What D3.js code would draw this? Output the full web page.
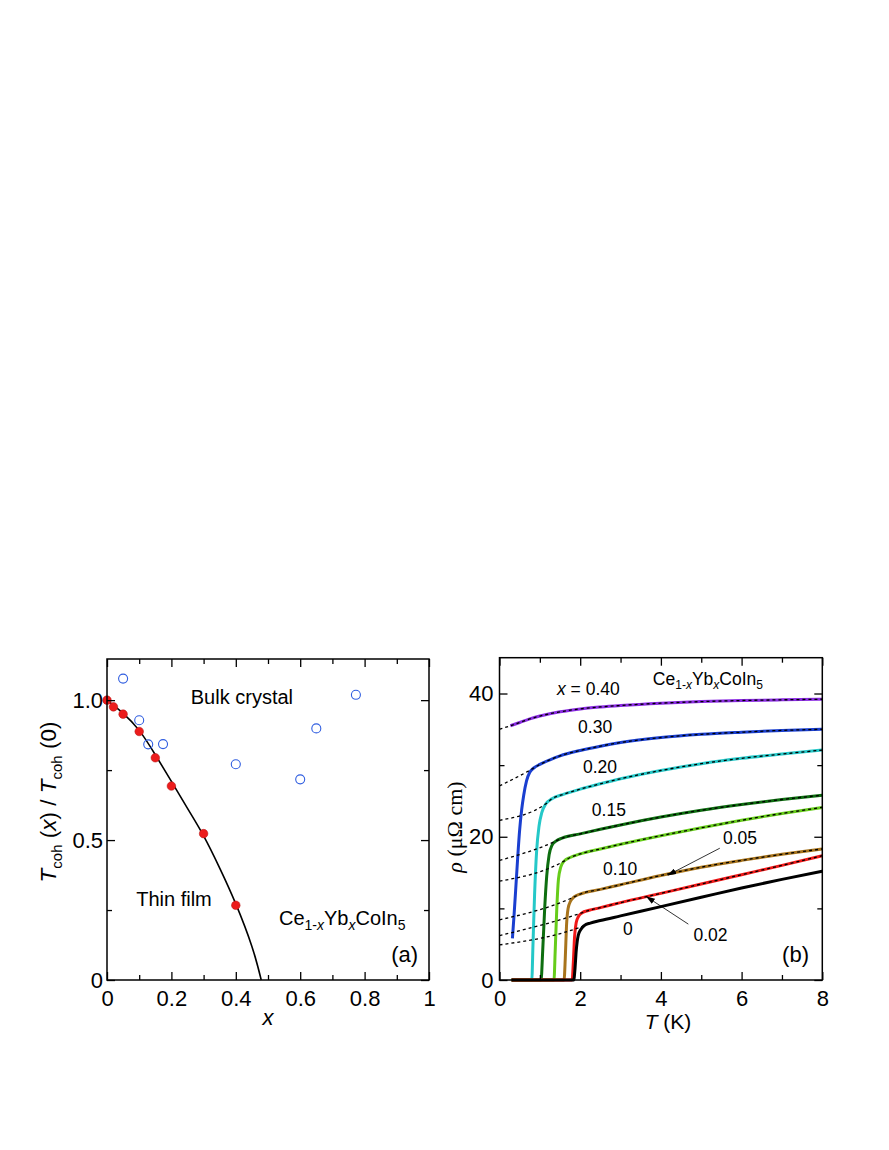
<!DOCTYPE html>
<html>
<head>
<meta charset="utf-8">
<script src="https://cdn.jsdelivr.net/npm/d3@7"></script>
<style>
  body { margin: 0; background: #fff; }
  svg { display: block; }
  text { font-family: "Liberation Sans", Arial, Helvetica, sans-serif; }
</style>
</head>
<body>
<div id="chart"></div>
<script>
// ---------- panel (a) data ----------
var xTicksA = [0, 0.2, 0.4, 0.6, 0.8, 1];
var xTickLabelsA = ["0", "0.2", "0.4", "0.6", "0.8", "1"];
var xMinorA = [0.1, 0.3, 0.5, 0.7, 0.9];
var yTicksA = [0, 0.5, 1.0];
var yTickLabelsA = ["0", "0.5", "1.0"];
var yMinorA = [0.25, 0.75];

// thin film (filled red)
var filmX = [0, 0.02, 0.05, 0.1, 0.15, 0.2, 0.3, 0.4];
var filmT = [1.0, 0.976, 0.95, 0.888, 0.794, 0.693, 0.523, 0.267];
// bulk crystal (open blue)
var bulkX = [0.05, 0.1, 0.128, 0.174, 0.4, 0.6, 0.65, 0.773];
var bulkT = [1.077, 0.928, 0.842, 0.843, 0.771, 0.717, 0.899, 1.019];
// guide line through the film points
var guideX = [0, 0.05, 0.1, 0.15, 0.2, 0.25, 0.3, 0.35, 0.4, 0.45, 0.479];
var guideT = [1.0, 0.953, 0.892, 0.805, 0.71, 0.613, 0.515, 0.4, 0.272, 0.12, 0.0];

// ---------- panel (b) data ----------
var xTicksB = [0, 2, 4, 6, 8];
var xTickLabelsB = ["0", "2", "4", "6", "8"];
var xMinorB = [1, 3, 5, 7];
var yTicksB = [0, 20, 40];
var yTickLabelsB = ["0", "20", "40"];
var yMinorB = [10, 30];

var seriesNames = ["0", "0.02", "0.05", "0.10", "0.15", "0.20", "0.30", "0.40"];
var seriesColors = ["#000000", "#f01818", "#a8741c", "#66cc1a", "#0e6e10", "#25c8c8", "#1a3fd0", "#8a2be2"];

var tempX0  = [0.3, 1.84, 1.87, 1.9, 1.95, 2.02, 2.1, 2.25, 2.5, 3, 4, 5, 6, 7, 8];
var rhoX0   = [0, 0, 1.5, 4.0, 6.2, 7.1, 7.6, 7.95, 8.3, 8.95, 10.25, 11.55, 12.85, 14.05, 15.2];
var tempX02 = [0.3, 1.8, 1.83, 1.86, 1.9, 1.96, 2.05, 2.2, 2.5, 3, 4, 5, 6, 7, 8];
var rhoX02  = [0, 0, 2.5, 6.0, 8.0, 8.9, 9.4, 9.7, 10.1, 10.8, 12.1, 13.4, 14.7, 16.0, 17.35];
var tempX05 = [0.3, 1.6, 1.63, 1.66, 1.7, 1.76, 1.85, 2.0, 2.5, 3, 4, 5, 6, 7, 8];
var rhoX05  = [0, 0, 3.0, 7.5, 10.0, 11.0, 11.6, 12.0, 12.65, 13.3, 14.6, 15.75, 16.7, 17.55, 18.3];
var tempX10 = [0.3, 1.35, 1.38, 1.42, 1.46, 1.52, 1.6, 1.75, 2.0, 2.5, 3, 4, 5, 6, 7, 8];
var rhoX10  = [0, 0, 4.0, 10.0, 14.0, 15.8, 16.6, 17.1, 17.6, 18.3, 18.95, 20.15, 21.25, 22.3, 23.25, 24.1];
var tempX15 = [0.3, 1.03, 1.07, 1.12, 1.17, 1.23, 1.3, 1.4, 1.55, 2.0, 2.5, 3, 4, 5, 6, 7, 8];
var rhoX15  = [0, 0, 4.0, 10.0, 14.5, 17.5, 18.8, 19.4, 19.8, 20.4, 21.05, 21.65, 22.75, 23.7, 24.5, 25.2, 25.8];
var tempX20 = [0.3, 0.8, 0.83, 0.87, 0.92, 0.98, 1.05, 1.15, 1.3, 1.6, 2.0, 2.5, 3, 4, 5, 6, 7, 8];
var rhoX20  = [0, 0, 5.0, 12.0, 18.0, 21.5, 23.4, 24.6, 25.3, 25.95, 26.65, 27.4, 28.1, 29.25, 30.2, 30.95, 31.55, 32.1];
var tempX30 = [0.32, 0.36, 0.4, 0.45, 0.5, 0.55, 0.6, 0.67, 0.75, 0.85, 1.0, 1.25, 1.5, 2, 2.5, 3, 4, 5, 6, 7, 8];
var rhoX30  = [5.8, 9.0, 12.5, 17.0, 21.0, 23.8, 25.8, 27.8, 29.0, 29.6, 30.1, 30.75, 31.3, 32.05, 32.65, 33.15, 33.85, 34.3, 34.6, 34.85, 35.0];
var tempX40 = [0.27, 0.5, 0.75, 1.0, 1.5, 2, 2.5, 3, 4, 5, 6, 7, 8];
var rhoX40  = [35.5, 35.95, 36.45, 36.85, 37.45, 37.85, 38.12, 38.33, 38.65, 38.87, 39.02, 39.12, 39.2];

var seriesTemps = [tempX0, tempX02, tempX05, tempX10, tempX15, tempX20, tempX30, tempX40];
var seriesRhos  = [rhoX0, rhoX02, rhoX05, rhoX10, rhoX15, rhoX20, rhoX30, rhoX40];

// dashed fits: residual resistivity at T = 0, where the fit joins the data, where it stops
var fitRho0  = [4.9, 6.2, 8.4, 13.8, 16.7, 22.3, 27.1, 35.0];
var fitJoinT = [2.1, 2.05, 1.85, 1.6, 1.4, 1.15, 0.85, 0.27];
var fitEndT  = [3, 8, 8, 8, 8, 8, 8, 8];

var svg = d3.select("#chart").append("svg")
    .attr("width", 889)
    .attr("height", 1150);

svg.append("defs").append("marker")
    .attr("id", "arrow")
    .attr("markerUnits", "userSpaceOnUse")
    .attr("markerWidth", 9).attr("markerHeight", 6)
    .attr("refX", 8).attr("refY", 3)
    .attr("orient", "auto")
  .append("path")
    .attr("d", "M0,0 L9,3 L0,6 Z")
    .attr("fill", "#000");

// Draws the four-sided frame with inward ticks
function drawAxes(x, y, xMaj, xLab, xMin, yMaj, yLab, yMin, yPad) {
    var x0 = x.range()[0], x1 = x.range()[1], y0 = y.range()[0], y1 = y.range()[1];
    function style(g) {
        g.select(".domain").remove();
        g.attr("font-size", 22);
        g.selectAll("line").attr("stroke-width", 1.3);
        g.selectAll("text").attr("fill", "#000");
    }
    // bottom
    svg.append("g").attr("transform", "translate(0," + y0 + ")")
        .call(d3.axisBottom(x).tickValues(xMaj).tickFormat(function(d, i) { return xLab[i]; })
            .tickSize(-8).tickSizeOuter(0).tickPadding(10)).call(style);
    svg.append("g").attr("transform", "translate(0," + y0 + ")")
        .call(d3.axisBottom(x).tickValues(xMin).tickFormat("").tickSize(-5).tickSizeOuter(0)).call(style);
    // top
    svg.append("g").attr("transform", "translate(0," + y1 + ")")
        .call(d3.axisTop(x).tickValues(xMaj).tickFormat("").tickSize(-8).tickSizeOuter(0)).call(style);
    svg.append("g").attr("transform", "translate(0," + y1 + ")")
        .call(d3.axisTop(x).tickValues(xMin).tickFormat("").tickSize(-5).tickSizeOuter(0)).call(style);
    // left
    svg.append("g").attr("transform", "translate(" + x0 + ",0)")
        .call(d3.axisLeft(y).tickValues(yMaj).tickFormat(function(d, i) { return yLab[i]; })
            .tickSize(-8).tickSizeOuter(0).tickPadding(yPad)).call(style);
    svg.append("g").attr("transform", "translate(" + x0 + ",0)")
        .call(d3.axisLeft(y).tickValues(yMin).tickFormat("").tickSize(-5).tickSizeOuter(0)).call(style);
    // right
    svg.append("g").attr("transform", "translate(" + x1 + ",0)")
        .call(d3.axisRight(y).tickValues(yMaj).tickFormat("").tickSize(-8).tickSizeOuter(0)).call(style);
    svg.append("g").attr("transform", "translate(" + x1 + ",0)")
        .call(d3.axisRight(y).tickValues(yMin).tickFormat("").tickSize(-5).tickSizeOuter(0)).call(style);

    svg.append("rect")
        .attr("x", x0).attr("y", y1)
        .attr("width", x1 - x0).attr("height", y0 - y1)
        .attr("fill", "none").attr("stroke", "#000").attr("stroke-width", 1.5);
}

// Ce1-xYbxCoIn5 with subscripts
function chemLabel(x, y, size, sub, shift) {
    var t = svg.append("text").attr("x", x).attr("y", y).attr("font-size", size);
    t.append("tspan").text("Ce");
    t.append("tspan").attr("font-size", sub).attr("dy", shift).text("1-");
    t.append("tspan").attr("font-size", sub).attr("font-style", "italic").text("x");
    t.append("tspan").attr("dy", -shift).text("Yb");
    t.append("tspan").attr("font-size", sub).attr("dy", shift).attr("font-style", "italic").text("x");
    t.append("tspan").attr("dy", -shift).text("CoIn");
    t.append("tspan").attr("font-size", sub).attr("dy", shift).text("5");
    return t;
}

// ================= panel (a) =================
var xa = d3.scaleLinear().domain([0, 1]).range([107, 429]);
var ya = d3.scaleLinear().domain([0, 1.147]).range([980, 659]);

var guideLine = d3.line()
    .x(function(d) { return xa(d[0]); })
    .y(function(d) { return ya(d[1]); })
    .curve(d3.curveNatural);

svg.append("path")
    .datum(guideX.map(function(v, i) { return [v, guideT[i]]; }))
    .attr("fill", "none")
    .attr("stroke", "#000")
    .attr("stroke-width", 1.6)
    .attr("d", guideLine);

svg.append("g").selectAll("circle")
    .data(bulkX.map(function(v, i) { return [v, bulkT[i]]; }))
    .enter().append("circle")
    .attr("cx", function(d) { return xa(d[0]); })
    .attr("cy", function(d) { return ya(d[1]); })
    .attr("r", 4.5)
    .attr("fill", "none")
    .attr("stroke", "#2f5de0")
    .attr("stroke-width", 1.1);

svg.append("g").selectAll("circle")
    .data(filmX.map(function(v, i) { return [v, filmT[i]]; }))
    .enter().append("circle")
    .attr("cx", function(d) { return xa(d[0]); })
    .attr("cy", function(d) { return ya(d[1]); })
    .attr("r", 4.3)
    .attr("fill", "#ec1c1c")
    .attr("stroke", "#b01010")
    .attr("stroke-width", 0.5);

drawAxes(xa, ya, xTicksA, xTickLabelsA, xMinorA, yTicksA, yTickLabelsA, yMinorA, 4);

svg.append("text")
    .attr("x", xa(0.419)).attr("y", ya(0.986))
    .attr("text-anchor", "middle").attr("font-size", 20)
    .text("Bulk crystal");

svg.append("text")
    .attr("x", xa(0.208)).attr("y", ya(0.264))
    .attr("text-anchor", "middle").attr("font-size", 20)
    .text("Thin film");

chemLabel(xa(0.534), ya(0.196), 20, 14, 5);

svg.append("text")
    .attr("x", xa(0.966)).attr("y", ya(0.064))
    .attr("text-anchor", "end").attr("font-size", 22)
    .text("(a)");

// x label
svg.append("text")
    .attr("x", 268).attr("y", 1025)
    .attr("text-anchor", "middle").attr("font-size", 22).attr("font-style", "italic")
    .text("x");

// y label
var yla = svg.append("text")
    .attr("transform", "translate(56,802) rotate(-90)")
    .attr("text-anchor", "middle").attr("font-size", 22.5);
yla.append("tspan").attr("font-style", "italic").text("T");
yla.append("tspan").attr("font-size", 15).attr("dy", 6).text("coh");
yla.append("tspan").attr("dy", -6).text(" (");
yla.append("tspan").attr("font-style", "italic").text("x");
yla.append("tspan").text(") / ");
yla.append("tspan").attr("font-style", "italic").text("T");
yla.append("tspan").attr("font-size", 15).attr("dy", 6).text("coh");
yla.append("tspan").attr("dy", -6).text(" (0)");

// ================= panel (b) =================
var xb = d3.scaleLinear().domain([0, 8]).range([499.5, 822.3]);
var yb = d3.scaleLinear().domain([0, 45]).range([980, 657.7]);

var rhoLine = d3.line()
    .x(function(d) { return xb(d[0]); })
    .y(function(d) { return yb(d[1]); })
    .curve(d3.curveMonotoneX);

var curves = seriesNames.map(function(name, i) {
    return {
        name: name,
        color: seriesColors[i],
        values: seriesTemps[i].map(function(t, j) { return [t, seriesRhos[i][j]]; })
    };
});

// draw from highest x down so the black (x = 0) sits on top of the zero baseline
svg.append("g").selectAll("path")
    .data(curves.slice().reverse())
    .enter().append("path")
    .attr("fill", "none")
    .attr("stroke", function(d) { return d.color; })
    .attr("stroke-width", 3)
    .attr("stroke-linejoin", "round")
    .attr("d", function(d) { return rhoLine(d.values); });

// dashed fits
var fits = curves.map(function(c, i) {
    var pts = [[0, fitRho0[i]]];
    c.values.forEach(function(p) {
        if (p[0] >= fitJoinT[i] && p[0] <= fitEndT[i]) pts.push(p);
    });
    return pts;
});

svg.append("g").selectAll("path")
    .data(fits)
    .enter().append("path")
    .attr("fill", "none")
    .attr("stroke", "#000")
    .attr("stroke-width", 1.3)
    .attr("stroke-dasharray", "3,3")
    .attr("d", rhoLine);

drawAxes(xb, yb, xTicksB, xTickLabelsB, xMinorB, yTicksB, yTickLabelsB, yMinorB, 6);

// composition labels
var lab = svg.append("text")
    .attr("x", xb(1.425)).attr("y", yb(39.8)).attr("font-size", 17.5);
lab.append("tspan").attr("font-style", "italic").text("x");
lab.append("tspan").text(" = 0.40");

var labelText = ["0.30", "0.20", "0.15", "0.10", "0.05", "0", "0.02"];
var labelT    = [2.37, 2.49, 2.71, 2.99, 5.96, 3.18, 5.23];
var labelRho  = [34.5, 28.9, 22.9, 14.66, 18.99, 6.28, 5.44];

svg.append("g").selectAll("text")
    .data(labelText)
    .enter().append("text")
    .attr("x", function(d, i) { return xb(labelT[i]); })
    .attr("y", function(d, i) { return yb(labelRho[i]); })
    .attr("text-anchor", "middle")
    .attr("font-size", 17.5)
    .text(function(d) { return d; });

// arrows: [from T, from rho, to T, to rho]
var arrows = [[5.46, 18.4, 4.18, 14.66], [4.68, 7.8, 3.65, 11.6]];
svg.append("g").selectAll("line")
    .data(arrows)
    .enter().append("line")
    .attr("x1", function(d) { return xb(d[0]); })
    .attr("y1", function(d) { return yb(d[1]); })
    .attr("x2", function(d) { return xb(d[2]); })
    .attr("y2", function(d) { return yb(d[3]); })
    .attr("stroke", "#000")
    .attr("stroke-width", 0.8)
    .attr("marker-end", "url(#arrow)");

chemLabel(xb(3.8), yb(41.2), 17.5, 12, 4);

svg.append("text")
    .attr("x", xb(7.67)).attr("y", yb(2.5))
    .attr("text-anchor", "end").attr("font-size", 22)
    .text("(b)");

// x label
var xlb = svg.append("text")
    .attr("x", 668).attr("y", 1029)
    .attr("text-anchor", "middle").attr("font-size", 21);
xlb.append("tspan").attr("font-style", "italic").text("T");
xlb.append("tspan").text(" (K)");

// y label (serif, as in the original)
var ylb = svg.append("text")
    .attr("transform", "translate(462,827) rotate(-90)")
    .attr("text-anchor", "middle").attr("font-size", 22)
    .style("font-family", '"Liberation Serif", "Times New Roman", serif');
ylb.append("tspan").attr("font-style", "italic").text("ρ");
ylb.append("tspan").text(" (μΩ cm)");
</script>
</body>
</html>
